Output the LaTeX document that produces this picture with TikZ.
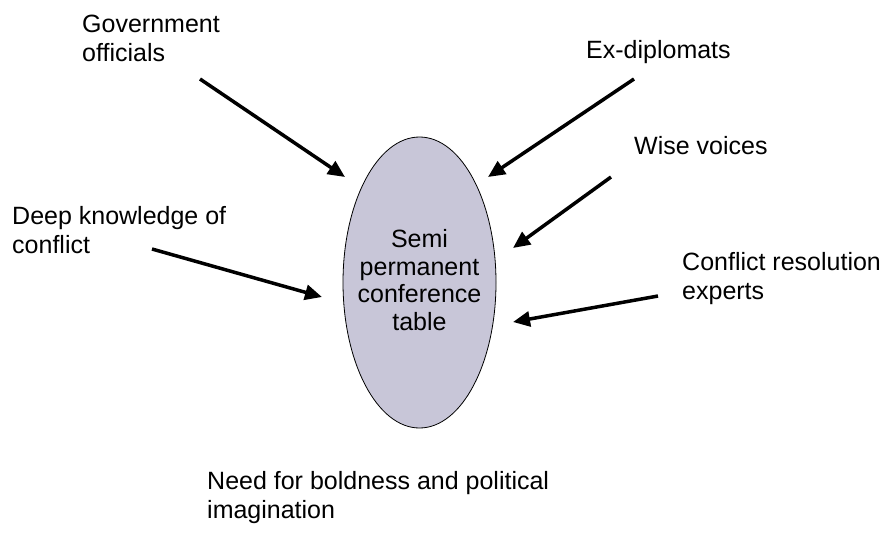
\documentclass[tikz,border=0pt]{standalone}
\usepackage{fontspec}
\setmainfont{Liberation Sans}
\usetikzlibrary{shapes.geometric,arrows.meta}
\definecolor{lav}{RGB}{200,198,216}
\tikzset{
  lbl/.style={anchor=base west,inner sep=0pt,align=left,font=\fontsize{25}{28.5}\selectfont},
  arr/.style={line width=3.5pt,-{Triangle[length=17pt,width=15pt]}},
  oval/.style={ellipse,draw=black,line width=0.8pt,fill=lav,minimum width=153pt,minimum height=291pt,inner sep=0pt},
  ovaltext/.style={inner sep=0pt,align=center,font=\fontsize{25}{27.5}\selectfont}
}
\begin{document}
\begin{tikzpicture}[x=1pt,y=-1pt]
\useasboundingbox (0,0) rectangle (885,533);
\node[oval] (table) at (419.5,282.5) {};
\node[ovaltext] (tabletext) at (419.5,280) {Semi\\permanent\\conference\\table};
\node[lbl] (gov) at (82,61) {Government\\officials};
\node[lbl] (exd) at (586,58) {Ex-diplomats};
\node[lbl] (wise) at (634,154) {Wise voices};
\node[lbl] (crx) at (682,299) {Conflict resolution\\experts};
\node[lbl] (deep) at (12,253) {Deep knowledge of\\conflict};
\node[lbl] (bold) at (207,518) {Need for boldness and political\\imagination};
\coordinate (g1) at (200,79);  \coordinate (g2) at (345,177);
\coordinate (e1) at (634,79);  \coordinate (e2) at (488,177);
\coordinate (w1) at (611,177); \coordinate (w2) at (513,248);
\coordinate (c1) at (658,296); \coordinate (c2) at (513,322);
\coordinate (d1) at (152,249); \coordinate (d2) at (322,297);
\draw[arr] (g1) -- (g2);
\draw[arr] (e1) -- (e2);
\draw[arr] (w1) -- (w2);
\draw[arr] (c1) -- (c2);
\draw[arr] (d1) -- (d2);
\end{tikzpicture}
\end{document}
